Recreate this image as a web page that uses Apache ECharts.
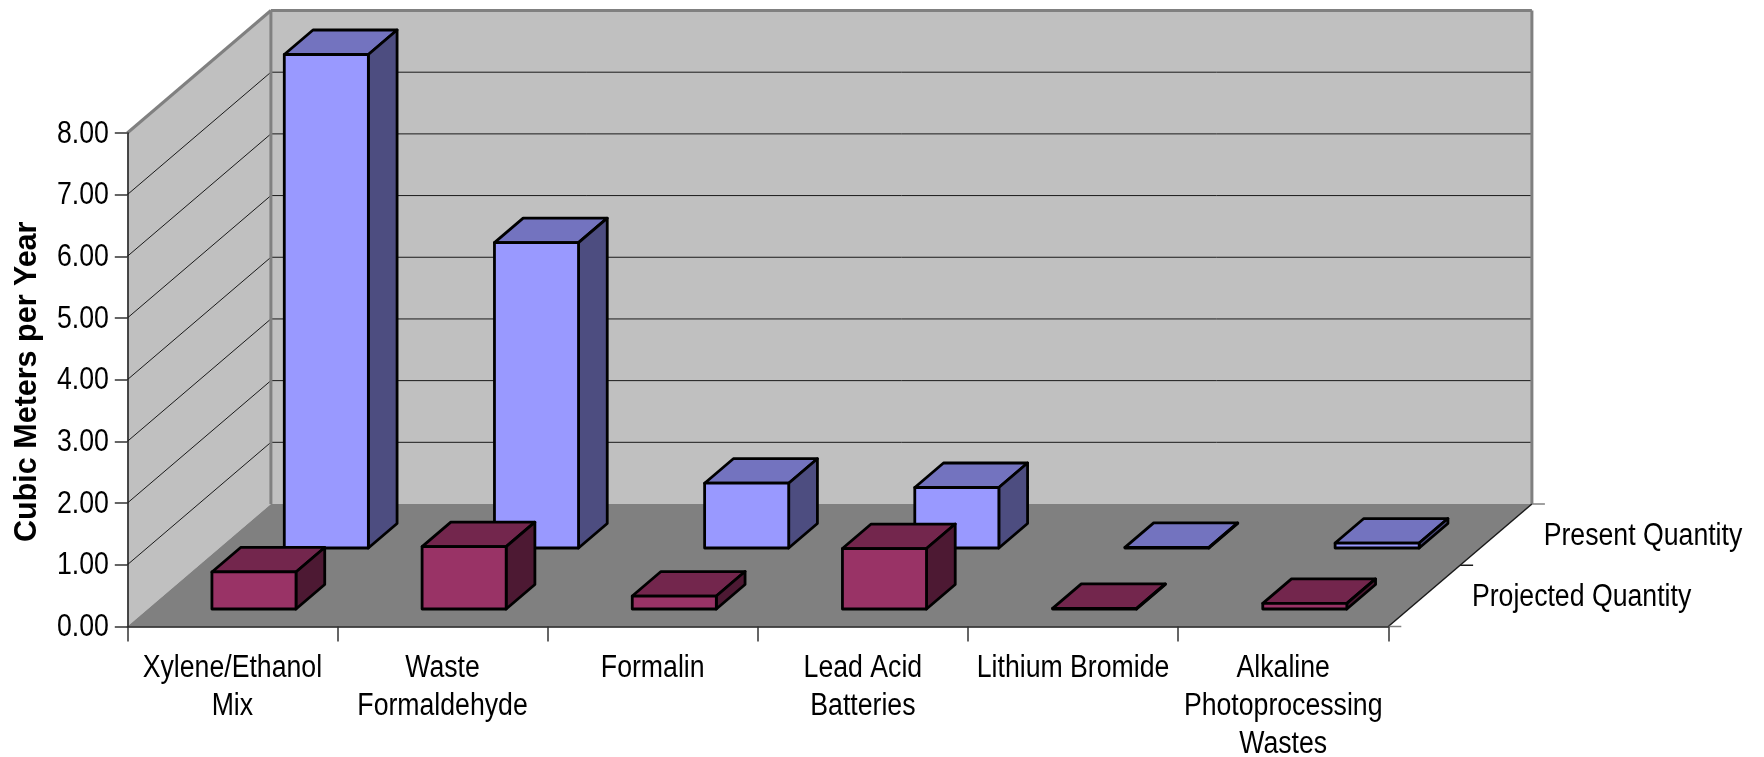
<!DOCTYPE html>
<html><head><meta charset="utf-8">
<style>html,body{margin:0;padding:0;background:#fff}#c{width:1764px;height:757px}</style>
<script src="https://cdn.jsdelivr.net/npm/echarts@6/dist/echarts.min.js"></script>
</head><body><div id="c"></div>
<script>
const categories = ['Xylene/Ethanol\nMix','Waste\nFormaldehyde','Formalin','Lead Acid\nBatteries','Lithium Bromide','Alkaline\nPhotoprocessing\nWastes'];
const presentQuantity = [8.0, 4.95, 1.05, 0.98, 0.01, 0.08];
const projectedQuantity = [0.6, 1.01, 0.21, 0.98, 0.01, 0.09];
const valueTicks = [0,1,2,3,4,5,6,7,8];
const seriesNames = ['Projected Quantity','Present Quantity'];

const DEPTH_X = 143.6, DEPTH_Y = 122.5;
const FONT = '"Liberation Sans", Arial, sans-serif';
const WALL = '#c0c0c0', FLOOR = '#808080', EDGE = '#808080', GRID = '#1a1a1a';
const TEXT_SIZE = 31, TEXT_SCALE_X = 0.86, LINE_HEIGHT = 38;

function at(api, band, v, d){
  const w = api.size([1,0])[0];
  const p = api.coord([0, v]);
  return [p[0] - w/2 + band*w + d*DEPTH_X, p[1] - d*DEPTH_Y];
}
function poly(points, fill, stroke, lw){
  return {type:'polygon', shape:{points}, style:{fill, stroke:stroke||null, lineWidth:lw||0, lineJoin:'round'}};
}
function line(a, b, stroke, lw){
  return {type:'line', shape:{x1:a[0],y1:a[1],x2:b[0],y2:b[1]}, style:{stroke, lineWidth:lw}};
}
function label(text, x, y, align){
  return {type:'text', x, y, scaleX:TEXT_SCALE_X, scaleY:1,
    style:{text, x:0, y:0, fill:'#000', font:TEXT_SIZE+'px '+FONT, textAlign:align, textVerticalAlign:'middle'}};
}
function renderRoom(params, api){
  const n = categories.length, top = valueTicks[valueTicks.length-1];
  const c = [];
  c.push(poly([at(api,0,0,0),at(api,0,top,0),at(api,0,top,1),at(api,0,0,1)], WALL));
  c.push(poly([at(api,0,0,1),at(api,0,top,1),at(api,n,top,1),at(api,n,0,1)], WALL));
  c.push(poly([at(api,0,0,0),at(api,0,0,1),at(api,n,0,1),at(api,n,0,0)], FLOOR));
  valueTicks.slice(1,-1).forEach(v=>{
    c.push(line(at(api,0,v,0), at(api,0,v,1), GRID, 1));
    c.push(line(at(api,0,v,1), at(api,n,v,1), GRID, 1));
  });
  c.push(line(at(api,0,top,0), at(api,0,top,1), EDGE, 3));
  c.push(line(at(api,0,top,1), at(api,n,top,1), EDGE, 3));
  c.push(line(at(api,0,0,1), at(api,0,top,1), EDGE, 3));
  c.push(line(at(api,n,0,1), at(api,n,top,1), EDGE, 3));
  c.push(line(at(api,n,0,0), at(api,n,0,1), GRID, 1.5));
  [0,0.5,1].forEach(d=>{
    const p = at(api,n,0,d);
    c.push(line(p, [p[0]+13,p[1]], d===0.5?GRID:EDGE, 1.5));
  });
  seriesNames.forEach((name,i)=>{
    const p = at(api,n,0,0.25+i*0.5);
    c.push(label(name, p[0]+47.7, p[1]+1.5, 'left'));
  });
  valueTicks.forEach(v=>{
    const p = at(api,0,v,0);
    c.push(label(v.toFixed(2), p[0]-18.5, p[1]+1, 'right'));
  });
  categories.forEach((name,i)=>{
    const p = at(api,i+0.5,0,0);
    name.split('\n').forEach((txt,k)=>c.push(label(txt, p[0], p[1]+42+k*LINE_HEIGHT, 'center')));
  });
  return {type:'group', children:c};
}
function barRenderer(bandStart, d0, d1, front, topFill, sideFill){
  return function(params, api){
    const i = api.value(0), v = api.value(1);
    const a = i + bandStart, b = a + 0.4;
    const s = '#000', lw = 2.8;
    return {type:'group', children:[
      poly([at(api,a,v,d0),at(api,b,v,d0),at(api,b,v,d1),at(api,a,v,d1)], topFill, s, lw),
      poly([at(api,b,0,d0),at(api,b,v,d0),at(api,b,v,d1),at(api,b,0,d1)], sideFill, s, lw),
      poly([at(api,a,0,d0),at(api,b,0,d0),at(api,b,v,d0),at(api,a,v,d0)], front, s, lw)
    ]};
  };
}
const chart = echarts.init(document.getElementById('c'), null, {renderer:'canvas'});
chart.setOption({
  animation:false,
  backgroundColor:'#fff',
  grid:{left:127.3, width:1261, top:133, height:493.5, containLabel:false},
  xAxis:{type:'category', data:categories, boundaryGap:true, z:5,
    axisLine:{lineStyle:{color:'#1a1a1a',width:1.5}},
    axisTick:{show:true,length:15,lineStyle:{color:'#333',width:1.5}},
    axisLabel:{show:false}},
  yAxis:{type:'value', min:0, max:8, interval:1, z:5,
    name:'Cubic Meters per Year', nameLocation:'middle', nameGap:84,
    nameTextStyle:{fontFamily:FONT, fontWeight:'bold', fontSize:30.5, color:'#000', padding:[0,4,0,0]},
    axisLine:{show:true,lineStyle:{color:'#1a1a1a',width:1.5}},
    axisTick:{show:true,length:12.5,lineStyle:{color:'#333',width:1.5}},
    axisLabel:{show:false},
    splitLine:{show:false}},
  series:[
    {type:'custom', name:'room', z:1, silent:true, data:[[0,0]], encode:{x:0,y:1}, renderItem:renderRoom},
    {type:'custom', name:'Present Quantity', z:2, silent:true, data:presentQuantity.map((v,i)=>[i,v]), encode:{x:0,y:1},
      renderItem:barRenderer(0.309,0.641,0.841,'#9999ff','#7373bf','#4d4d80')},
    {type:'custom', name:'Projected Quantity', z:3, silent:true, data:projectedQuantity.map((v,i)=>[i,v]), encode:{x:0,y:1},
      renderItem:barRenderer(0.305,0.143,0.343,'#993366','#73264d','#4d1933')}
  ]
});
</script></body></html>
